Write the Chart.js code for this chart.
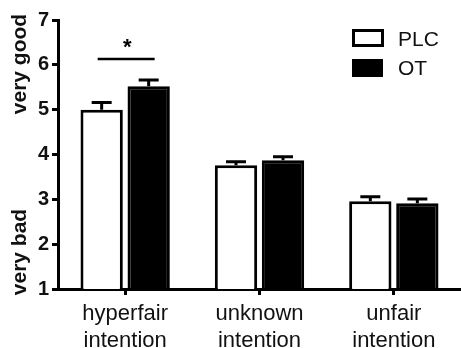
<!DOCTYPE html>
<html>
<head>
<meta charset="utf-8">
<script src="https://cdn.jsdelivr.net/npm/chart.js@4.4.0/dist/chart.umd.min.js"></script>
<style>
  body { margin: 0; background: #fff; }
  #wrap { width: 461px; height: 348px; }
</style>
</head>
<body>
<div id="wrap"><canvas id="myChart" width="461" height="348"></canvas></div>
<script>
var categories = [["hyperfair", "intention"], ["unknown", "intention"], ["unfair", "intention"]];
var plcValues = [5.0, 3.76, 2.96];
var plcErr = [0.16, 0.08, 0.10];
var otValues = [5.52, 3.87, 2.91];
var otErr = [0.14, 0.08, 0.10];
var yTicks = [1, 2, 3, 4, 5, 6, 7];
var sigLevel = 6.13;

var font = "'Liberation Sans', Arial, sans-serif";

// error bars, significance mark, legend and the two y labels
var extras = {
  id: "extras",
  afterDatasetsDraw: function (chart) {
    var ctx = chart.ctx;
    var y = chart.scales.y;
    var errs = [plcErr, otErr];
    ctx.save();
    ctx.strokeStyle = "#000";
    ctx.lineWidth = 3;
    chart.data.datasets.forEach(function (ds, i) {
      var meta = chart.getDatasetMeta(i);
      meta.data.forEach(function (bar, j) {
        var top = y.getPixelForValue(ds.data[j] + errs[i][j]);
        ctx.beginPath();
        ctx.moveTo(bar.x, bar.y);
        ctx.lineTo(bar.x, top);
        ctx.moveTo(bar.x - 10, top);
        ctx.lineTo(bar.x + 10, top);
        ctx.stroke();
      });
    });

    // significance line over first group
    var b0 = chart.getDatasetMeta(0).data[0];
    var b1 = chart.getDatasetMeta(1).data[0];
    var sy = y.getPixelForValue(sigLevel);
    ctx.lineWidth = 2.5;
    ctx.beginPath();
    ctx.moveTo(b0.x - 4, sy);
    ctx.lineTo(b1.x + 6, sy);
    ctx.stroke();
    ctx.fillStyle = "#000";
    ctx.font = "bold 22px " + font;
    ctx.textAlign = "center";
    ctx.textBaseline = "middle";
    ctx.fillText("*", (b0.x + b1.x) / 2 + 2, sy - 11);

    // legend
    ctx.lineWidth = 3;
    ctx.strokeRect(353.5, 30.5, 29, 15);
    ctx.fillRect(352, 59, 31, 18);
    ctx.font = "21px " + font;
    ctx.textAlign = "left";
    ctx.fillStyle = "#111";
    ctx.fillText("PLC", 398, 40);
    ctx.fillText("OT", 398, 69);

    // y axis side labels
    ctx.font = "bold 21px " + font;
    ctx.textAlign = "center";
    ctx.save();
    ctx.translate(20, 64);
    ctx.rotate(-Math.PI / 2);
    ctx.fillText("very good", 0, 0);
    ctx.restore();
    ctx.save();
    ctx.translate(20, 252);
    ctx.rotate(-Math.PI / 2);
    ctx.fillText("very bad", 0, 0);
    ctx.restore();
    ctx.restore();
  }
};

new Chart("myChart", {
  type: "bar",
  data: {
    labels: categories,
    datasets: [{
      label: "PLC",
      data: plcValues,
      backgroundColor: "#fff",
      borderColor: "#000",
      borderWidth: 3
    }, {
      label: "OT",
      data: otValues,
      backgroundColor: "#000",
      borderColor: "#000",
      borderWidth: 3
    }]
  },
  options: {
    responsive: false,
    animation: false,
    layout: { padding: { top: 20, right: 0, left: 0, bottom: 0 } },
    datasets: { bar: { categoryPercentage: 0.7, barPercentage: 0.9 } },
    plugins: { legend: { display: false }, tooltip: { enabled: false } },
    scales: {
      x: {
        afterFit: function (s) { s.height = 59; },
        border: { display: true, color: "#000", width: 3 },
        grid: { display: true, offset: false, drawOnChartArea: false, drawTicks: true, tickLength: 6, color: "#000", lineWidth: 3 },
        ticks: { color: "#111", padding: 5, font: { family: font, size: 22, lineHeight: 1.25 } }
      },
      y: {
        min: 1,
        max: 7,
        afterFit: function (s) { s.width = 58; },
        afterBuildTicks: function (s) { s.ticks = yTicks.map(function (v) { return { value: v }; }); },
        border: { display: true, color: "#000", width: 3 },
        grid: { display: true, drawOnChartArea: false, drawTicks: true, tickLength: 6, color: "#000", lineWidth: 3 },
        ticks: { color: "#111", padding: 3, font: { family: font, size: 20, weight: "bold" } }
      }
    }
  },
  plugins: [extras]
});
</script>
</body>
</html>
